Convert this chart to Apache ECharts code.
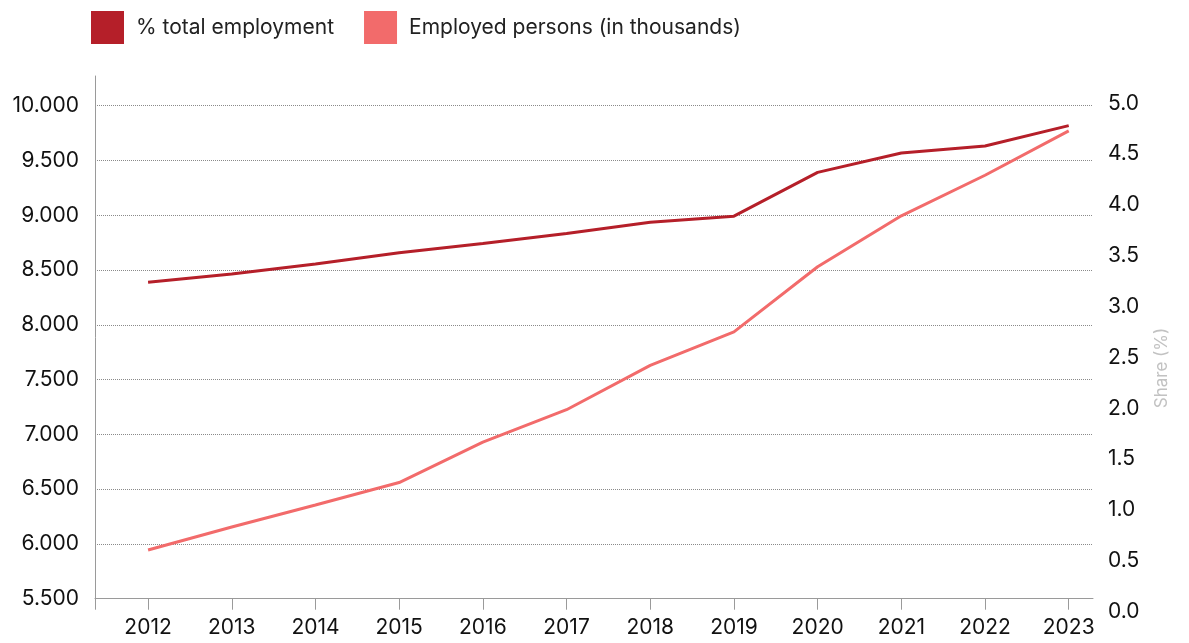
<!DOCTYPE html>
<html>
<head>
<meta charset="utf-8">
<title>Employment</title>
<script src="https://cdn.jsdelivr.net/npm/echarts@6/dist/echarts.min.js"></script>
<style>
  html, body { margin: 0; padding: 0; background: #ffffff; }
  #chart { width: 1189px; height: 643px; }
</style>
</head>
<body>
<div id="chart"></div>
<script>
// Years on the horizontal axis
const years = [2012, 2013, 2014, 2015, 2016, 2017, 2018, 2019, 2020, 2021, 2022, 2023];

// Share of total employment (%), right axis
const sharePct = [3.24, 3.32, 3.42, 3.53, 3.62, 3.72, 3.83, 3.89, 4.32, 4.51, 4.58, 4.78];

// Employed persons (in thousands), left axis
const employed = [5945, 6155, 6355, 6560, 6930, 7225, 7630, 7935, 8530, 8995, 9365, 9770];

// Tick labels on the right axis
const shareTicks = [0, 0.5, 1, 1.5, 2, 2.5, 3, 3.5, 4, 4.5, 5];

const seriesNames = ['% total employment', 'Employed persons (in thousands)'];
const colors = ['#b51f29', '#f26b6b'];

const FONT = 'Inter, "Noto Sans", sans-serif';
const LABEL_SIZE = 21;
const xMin = 2011.366, xMax = 2023.29;
const shareMin = 0.128, shareMax = 5.268;
const gridRight = 96;

function thousands(v) {
  return String(Math.round(v)).replace(/\B(?=(\d{3})+(?!\d))/g, '.');
}
function shareLabel(v) {
  return v.toFixed(1);
}

const chart = echarts.init(document.getElementById('chart'), null, { renderer: 'canvas' });

chart.setOption({
  animation: false,
  color: colors,
  textStyle: { fontFamily: FONT },
  legend: {
    left: 86,
    top: 6,
    itemWidth: 33,
    itemHeight: 33,
    itemGap: 30,
    icon: 'rect',
    data: seriesNames,
    textStyle: { fontFamily: FONT, fontSize: 21, color: '#222222', padding: [0, 0, 0, 7] }
  },
  grid: { left: 95, right: gridRight, top: 76, bottom: 44.3, containLabel: false },
  xAxis: {
    type: 'value',
    min: xMin,
    max: xMax,
    axisLine: { show: true, lineStyle: { color: '#9a9a9a', width: 1 } },
    axisTick: { show: true, length: 11, lineStyle: { color: '#9a9a9a' }, customValues: [xMin].concat(years) },
    axisLabel: {
      customValues: years,
      margin: 18,
      fontFamily: FONT,
      fontSize: LABEL_SIZE,
      color: '#111111',
      formatter: v => String(v)
    },
    splitLine: { show: false }
  },
  yAxis: [
    {
      type: 'value',
      position: 'left',
      min: 5500,
      max: 10271,
      interval: 500,
      axisLine: { show: true, lineStyle: { color: '#9a9a9a', width: 1 } },
      axisTick: { show: false },
      axisLabel: {
        margin: 16,
        fontFamily: FONT,
        fontSize: LABEL_SIZE,
        color: '#111111',
        showMaxLabel: false,
        formatter: v => thousands(v)
      },
      splitLine: {
        show: true,
        showMinLine: false,
        showMaxLine: false,
        lineStyle: { color: '#8a8a8a', width: 1, type: [1, 1] }
      }
    },
    {
      type: 'value',
      position: 'right',
      min: shareMin,
      max: shareMax,
      axisLine: { show: false },
      axisTick: { show: false },
      axisLabel: {
        customValues: shareTicks,
        margin: 15,
        fontFamily: FONT,
        fontSize: LABEL_SIZE,
        color: '#111111',
        formatter: v => shareLabel(v)
      },
      splitLine: { show: false }
    }
  ],
  graphic: [
    {
      id: 'share-title',
      type: 'text',
      x: 1162,
      y: 368,
      rotation: Math.PI / 2,
      style: {
        text: 'Share (%)',
        align: 'center',
        verticalAlign: 'middle',
        fill: '#c2c2c2',
        font: '17px ' + FONT
      }
    }
  ],
  series: [
    {
      name: seriesNames[0],
      type: 'line',
      yAxisIndex: 1,
      data: years.map((y, i) => [y, sharePct[i]]),
      showSymbol: false,
      symbol: 'none',
      lineStyle: { width: 3, color: colors[0] },
      itemStyle: { color: colors[0] }
    },
    {
      name: seriesNames[1],
      type: 'line',
      yAxisIndex: 0,
      data: years.map((y, i) => [y, employed[i]]),
      showSymbol: false,
      symbol: 'none',
      lineStyle: { width: 3, color: colors[1] },
      itemStyle: { color: colors[1] }
    }
  ]
});

// The right axis starts above zero, so its "0.0" label sits below the plot
// and is placed here through the axis scale.
const outside = shareTicks.filter(v => v < shareMin || v > shareMax);
const width = chart.getWidth();
chart.setOption({
  graphic: outside.map(v => ({
    id: 'share-tick-' + v,
    type: 'text',
    x: width - gridRight + 15,
    y: chart.convertToPixel({ yAxisIndex: 1 }, v),
    style: {
      text: shareLabel(v),
      align: 'left',
      verticalAlign: 'middle',
      fill: '#111111',
      font: LABEL_SIZE + 'px ' + FONT
    }
  }))
});
</script>
</body>
</html>
